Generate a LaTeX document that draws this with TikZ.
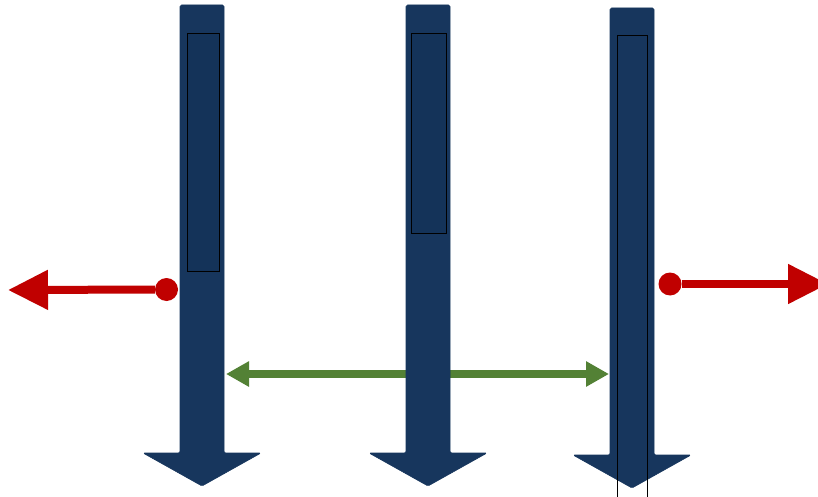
\documentclass[tikz,border=0pt]{standalone}
\usepackage{tikz}
\usetikzlibrary{arrows.meta}

\definecolor{navy}{RGB}{23,54,93}
\definecolor{panelnavy}{RGB}{20,51,89}
\definecolor{alarmred}{RGB}{192,0,0}
\definecolor{leafgreen}{RGB}{83,129,53}

\begin{document}
\begin{tikzpicture}[
        x = 1pt, y = -1pt,
        downarrow/.style = {fill = navy, draw = navy, line width = 0.6pt, rounded corners = 1.5pt},
        panel/.style = {draw = black, line width = 0.8pt, inner sep = 0pt},
        dot/.style = {circle, fill = alarmred, inner sep = 0pt, minimum size = 23pt},
        redline/.style = {draw = alarmred, line width = 8pt, -{Triangle[length = 40pt, width = 38pt]}},
        greenline/.style = {draw = leafgreen, line width = 7.5pt, {Triangle[length = 23pt, width = 24pt]}-{Triangle[length = 23pt, width = 24pt]}}
    ]

        % Fix the page to the size of the reference.
        \useasboundingbox (0, 0) rectangle (818, 497);

        % Points for the ends of the green double arrow.
        \coordinate (GL) at (226, 374);
        \coordinate (GR) at (609, 374);

        % Green double arrow between the outer shafts.
        \draw[greenline] (GL) to (GR);

        % Loop through the three downward arrows.
        \foreach \cx/\top/\neck in {202/5/453, 428/5/453, 632/8/455}{

            % Shaft and head of the arrow.
            \filldraw[downarrow] (\cx - 22, \top) -- (\cx + 22, \top)
                -- (\cx + 22, \neck) -- (\cx + 59, \neck) -- (\cx, \neck + 33)
                -- (\cx - 59, \neck) -- (\cx - 22, \neck) -- cycle;
        }

        % Panels inside the shafts.
        \node[panel, fill = panelnavy, minimum width = 32, minimum height = 238] (box1) at (203, 152) {};
        \node[panel, fill = panelnavy, minimum width = 35, minimum height = 200] (box2) at (428.5, 133) {};
        \node[panel, minimum width = 30, minimum height = 462] (box3) at (632, 266) {};

        % Red dots on the outer shafts.
        \node[dot] (dot1) at (166.5, 289.5) {};
        \node[dot] (dot2) at (670, 284) {};

        % Free ends of the red arrows.
        \coordinate (END1) at (8, 290);
        \coordinate (END2) at (828, 284);

        % Red arrows pointing outwards.
        \draw[redline] (dot1) to (END1);
        \draw[redline] (dot2) to (END2);
    \end{tikzpicture}
\end{document}
